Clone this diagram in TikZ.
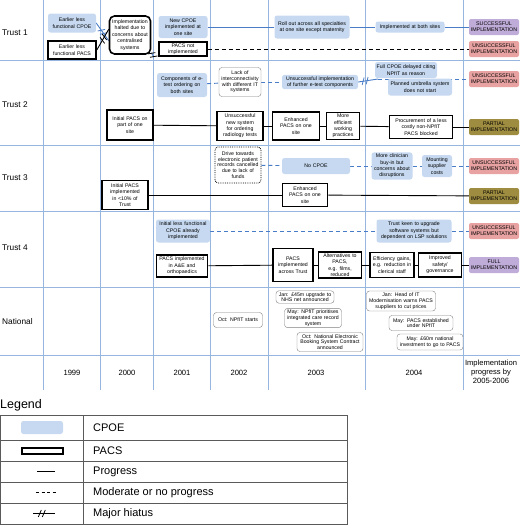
\documentclass[tikz,border=0pt]{standalone}
\usepackage{fontspec}
\setmainfont{Liberation Sans}
\usepackage{xcolor}
\usepackage{tikz}
\usetikzlibrary{backgrounds}
\definecolor{cpoefill}{RGB}{198,217,240}
\definecolor{gridblue}{RGB}{150,182,224}
\definecolor{cline}{RGB}{72,124,198}
\definecolor{succfill}{RGB}{192,172,216}
\definecolor{failfill}{RGB}{232,162,162}
\definecolor{partfill}{RGB}{158,140,64}
\definecolor{leggray}{RGB}{90,90,90}
\tikzset{
  hiatus/.pic={
    \draw[line width=0.8pt, #1] (-3.5pt,-3.5pt) -- (-0.5pt,3.5pt) (0.5pt,-3.5pt) -- (3.5pt,3.5pt);
  }
}

\begin{document}
\begin{tikzpicture}[x=1pt, y=-1pt,
  cpoe/.style={fill=cpoefill, rounded corners=2.5pt, align=center, inner sep=1.5pt,
               font=\fontsize{5.2}{6.4}\selectfont},
  pacs/.style={draw, line width=1.6pt, fill=white, align=center, inner sep=1.5pt,
               font=\fontsize{5.2}{6.4}\selectfont},
  event/.style={draw=gray, rounded corners=3pt, fill=white, align=center, inner sep=1.5pt,
                font=\fontsize{5.2}{5.7}\selectfont},
  outcome/.style={minimum width=50pt, minimum height=16pt, rounded corners=2pt, align=center,
                  inner sep=0pt, font=\fontsize{5.3}{6.3}\selectfont},
  rowlabel/.style={anchor=west, inner sep=0pt, font=\fontsize{8.3}{10}\selectfont},
  yearlabel/.style={inner sep=0pt, align=center, font=\fontsize{7.6}{9.2}\selectfont},
  legtext/.style={anchor=west, inner sep=0pt, font=\fontsize{11}{13}\selectfont},
  gridline/.style={gridblue, line width=1pt},
  prog/.style={line width=0.9pt},
  cprog/.style={cline, line width=0.9pt},
  modblue/.style={cline, line width=0.9pt, dash pattern=on 4pt off 3pt},
  modblack/.style={line width=1pt, dash pattern=on 4pt off 3pt},
  legline/.style={leggray, line width=0.9pt}
]
  \useasboundingbox (0,0) rectangle (520,525);

  % row and year labels
  \node[rowlabel] (lt1) at (2,33) {Trust 1};
  \node[rowlabel] (lt2) at (2,105) {Trust 2};
  \node[rowlabel] (lt3) at (2,178) {Trust 3};
  \node[rowlabel] (lt4) at (2,248) {Trust 4};
  \node[rowlabel] (ltn) at (2,322) {National};
  \node[yearlabel] (y99) at (72,373) {1999};
  \node[yearlabel] (y00) at (127,373) {2000};
  \node[yearlabel] (y01) at (182,373) {2001};
  \node[yearlabel] (y02) at (239,373) {2002};
  \node[yearlabel] (y03) at (316,373) {2003};
  \node[yearlabel] (y04) at (414,373) {2004};
  \node[yearlabel] (y05) at (491,372) {Implementation\\progress by\\2005-2006};

  % Trust 1
  \node[cpoe, text width=45pt, minimum height=19pt] (t1cpoe) at (72,23) {Earlier less\\functional CPOE};
  \node[pacs, text width=45pt, minimum height=18pt] (t1pacs) at (72,50) {Earlier less\\functional PACS};
  \node[pacs, rounded corners=5pt, text width=38pt, minimum height=38pt] (t1halt) at (130,35)
       {Implementation\\halted due to\\concerns about\\centralised\\systems};
  \node[cpoe, text width=46pt, minimum height=22pt] (t1new) at (183,27) {New CPOE\\implemented at\\one site};
  \node[pacs, text width=45pt, minimum height=14pt] (t1nopacs) at (183,49) {PACS not\\implemented};
  \node[cpoe, text width=72pt, minimum height=23pt] (t1roll) at (312,27) {Roll out across all specialties\\at one site except maternity};
  \node[cpoe, text width=66pt, minimum height=11pt] (t1both) at (410,27) {Implemented at both sites};
  \node[outcome, fill=succfill] (t1succ) at (494,27) {SUCCESSFUL\\IMPLEMENTATION};
  \node[outcome, fill=failfill] (t1fail) at (494,49) {UNSUCCESSFUL\\IMPLEMENTATION};
  \coordinate (t1gap) at (154,57);

  % Trust 2
  \node[cpoe, text width=47pt, minimum height=24pt] (t2etest) at (182,85) {Components of e-\\test ordering on\\both sites};
  \node[event, text width=39pt, minimum height=29pt] (t2lack) at (240,82) {Lack of\\interconnectivity\\with different IT\\systems};
  \node[cpoe, text width=73pt, minimum height=14pt] (t2further) at (320,82) {Unsuccessful implementation\\of further e-test components};
  \node[cpoe, text width=59pt, minimum height=16pt] (t2full) at (406,70) {Full CPOE delayed citing\\NPfIT as reason};
  \node[cpoe, text width=61pt, minimum height=17pt] (t2umb) at (420,87) {Planned umbrella system\\does not start};
  \node[outcome, fill=failfill] (t2fail) at (494,79) {UNSUCCESSFUL\\IMPLEMENTATION};
  \coordinate (t2gap) at (378,79);
  \node[pacs, text width=43pt, minimum height=30pt] (t2init) at (130,125) {Initial PACS on\\part of one\\site};
  \node[pacs, text width=43pt, minimum height=29pt] (t2radio) at (240,126) {Unsuccessful\\new system\\for ordering\\radiology tests};
  \node[pacs, text width=44pt, minimum height=28pt] (t2enh) at (296,126) {Enhanced\\PACS on one\\site};
  \node[pacs, text width=30pt, minimum height=27pt] (t2work) at (343,126) {More\\efficient\\working\\practices};
  \node[pacs, text width=60pt, minimum height=23pt] (t2proc) at (421,127) {Procurement of a less\\costly non-NPfIT\\PACS blocked};
  \node[outcome, fill=partfill] (t2part) at (494,127) {PARTIAL\\IMPLEMENTATION};

  % Trust 3
  \node[event, draw=black, densely dotted, line width=0.8pt, text width=43pt, minimum height=36pt] (t3drive) at (238,165)
       {Drive towards\\electronic patient\\records cancelled\\due to lack of\\funds};
  \node[cpoe, text width=65pt, minimum height=16pt] (t3none) at (316,166) {No CPOE};
  \node[cpoe, text width=38pt, minimum height=26pt] (t3buyin) at (392,166) {More clinician\\buy-in but\\concerns about\\disruptions};
  \node[cpoe, text width=27pt, minimum height=22pt] (t3cost) at (437,166) {Mounting\\supplier\\costs};
  \node[outcome, fill=failfill] (t3fail) at (494,166) {UNSUCCESSFUL\\IMPLEMENTATION};
  \node[pacs, text width=43pt, minimum height=29pt] (t3init) at (125,195) {Initial PACS\\implemented\\in <10\% of\\Trust};
  \node[pacs, text width=42pt, minimum height=23pt] (t3enh) at (305,195) {Enhanced\\PACS on one\\site};
  \node[outcome, fill=partfill] (t3part) at (494,196) {PARTIAL\\IMPLEMENTATION};

  % Trust 4
  \node[cpoe, text width=51pt, minimum height=23pt] (t4cpoe) at (183,231) {Initial less functional\\CPOE already\\implemented};
  \node[cpoe, text width=72pt, minimum height=23pt] (t4keen) at (414,231) {Trust keen to upgrade\\software systems but\\dependent on LSP solutions};
  \node[outcome, fill=failfill] (t4fail) at (494,231) {UNSUCCESSFUL\\IMPLEMENTATION};
  \node[pacs, text width=48pt, minimum height=22pt] (t4ae) at (182,266) {PACS implemented\\in A\&E and\\orthopaedics};
  \node[pacs, text width=37pt, minimum height=33pt] (t4across) at (293,265) {PACS\\implemented\\across Trust};
  \node[pacs, text width=40pt, minimum height=21pt] (t4alt) at (340,265) {Alternatives to\\PACS, e.g. films,\\reduced};
  \node[pacs, text width=41pt, minimum height=25pt] (t4eff) at (392,265) {Efficiency gains,\\e.g. reduction in\\clerical staff};
  \node[pacs, text width=40pt, minimum height=24pt] (t4safe) at (440,265) {Improved\\safety/\\governance};
  \node[outcome, fill=succfill] (t4full) at (494,265) {FULL\\IMPLEMENTATION};

  % National
  \node[event, text width=46pt, minimum height=15pt] (n02) at (238,320) {Oct: NPfIT starts};
  \node[event, text width=55pt, minimum height=12pt] (n03a) at (305,297) {Jan: £45m upgrade to\\NHS net announced};
  \node[event, text width=54pt, minimum height=19pt] (n03b) at (313,318) {May: NPfIT prioritises\\integrated care record\\system};
  \node[event, text width=63pt, minimum height=19pt] (n03c) at (330,342) {Oct: National Electronic\\Booking System Contract\\announced};
  \node[event, text width=66pt, minimum height=20pt] (n04a) at (401,301) {Jan: Head of IT\\Modernisation warns PACS\\suppliers to cut prices};
  \node[event, text width=61pt, minimum height=15pt] (n04b) at (421,323) {May: PACS established\\under NPfIT};
  \node[event, text width=63pt, minimum height=16pt] (n04c) at (430,342) {May: £60m national\\investment to go to PACS};

  % Legend
  \node[anchor=west, inner sep=0pt, font=\fontsize{12.5}{15}\selectfont] (leg) at (0,405) {Legend};
  \node[cpoe, minimum width=42pt, minimum height=13pt, inner sep=0pt] (lgcpoe) at (42,427.5) {};
  \node[pacs, minimum width=41pt, minimum height=6pt, inner sep=0pt] (lgpacs) at (42.5,451) {};
  \coordinate (lgpa) at (37,471.5);
  \coordinate (lgpb) at (55,471.5);
  \coordinate (lgma) at (36,492.5);
  \coordinate (lgmb) at (56,492.5);
  \coordinate (lgha) at (33,513.5);
  \coordinate (lghb) at (55,513.5);
  \node[legtext] (lgt1) at (93,427.5) {CPOE};
  \node[legtext] (lgt2) at (93,450.5) {PACS};
  \node[legtext] (lgt3) at (93,471.5) {Progress};
  \node[legtext] (lgt4) at (93,492.5) {Moderate or no progress};
  \node[legtext] (lgt5) at (93,513.5) {Major hiatus};

  \begin{scope}[on background layer]
    \draw[gridline] (43,0) -- (43,390);
    \draw[gridline] (100,0) -- (100,390);
    \draw[gridline] (153,0) -- (153,390);
    \draw[gridline] (210,0) -- (210,390);
    \draw[gridline] (268,0) -- (268,390);
    \draw[gridline] (365,0) -- (365,390);
    \draw[gridline] (463,0) -- (463,390);
    \draw[gridline] (0,60) -- (520,60);
    \draw[gridline] (0,145) -- (520,145);
    \draw[gridline] (0,211) -- (520,211);
    \draw[gridline] (0,287) -- (520,287);
    \draw[gridline] (0,355) -- (520,355);

    \draw[cprog] (t1cpoe.east) -- pic[pos=.5, sloped]{hiatus=cline} (t1halt.195);
    \draw[prog] (t1pacs.east) -- pic[pos=.55, sloped]{hiatus=black} (t1halt.165);
    \draw[cprog] (t1halt.-40) -- pic[pos=.5, sloped]{hiatus=black} (t1gap);
    \draw[cprog] (t1new) -- (t1roll);
    \draw[cprog] (t1roll) -- (t1both);
    \draw[cprog] (t1both) -- (t1succ);
    \draw[modblack] (t1nopacs) -- (t1fail);

    \draw[modblue] (t2etest) -- (t2lack);
    \draw[modblue] (t2lack) -- (t2further);
    \draw[cprog] (t2further.east) -- pic[pos=.35, sloped]{hiatus=cline} (t2gap);
    \draw[modblue] (t2gap) -- (t2fail.west);
    \draw[prog] (t2init) -- (t2radio);
    \draw[prog] (t2radio) -- (t2enh);
    \draw[prog] (t2enh) -- (t2work);
    \draw[prog] (t2work) -- (t2proc);
    \draw[prog] (t2proc) -- (t2part);

    \draw[modblue] (t3drive) -- (t3none);
    \draw[modblue] (t3none) -- (t3buyin);
    \draw[modblue] (t3buyin) -- (t3cost);
    \draw[modblue] (t3cost) -- (t3fail);
    \draw[prog] (t3init) -- (t3enh);
    \draw[prog] (t3enh) -- (t3part);

    \draw[modblue] (t4cpoe) -- (t4keen);
    \draw[modblue] (t4keen) -- (t4fail);
    \draw[prog] (t4ae) -- (t4across);
    \draw[prog] (t4across) -- (t4alt);
    \draw[prog] (t4alt) -- (t4eff);
    \draw[prog] (t4eff) -- (t4safe);
    \draw[prog] (t4safe) -- (t4full);
  \end{scope}

  % legend table
  \draw[legline] (0,415) rectangle (347,524);
  \draw[legline] (83,415) -- (83,524);
  \draw[legline] (0,440) -- (347,440);
  \draw[legline] (0,461) -- (347,461);
  \draw[legline] (0,482) -- (347,482);
  \draw[legline] (0,503) -- (347,503);
  \draw[prog] (lgpa) -- (lgpb);
  \draw[line width=0.8pt, dash pattern=on 3pt off 2.5pt] (lgma) -- (lgmb);
  \draw[prog] (lgha) -- pic[pos=.4, sloped]{hiatus=black} (lghb);
\end{tikzpicture}
\end{document}
